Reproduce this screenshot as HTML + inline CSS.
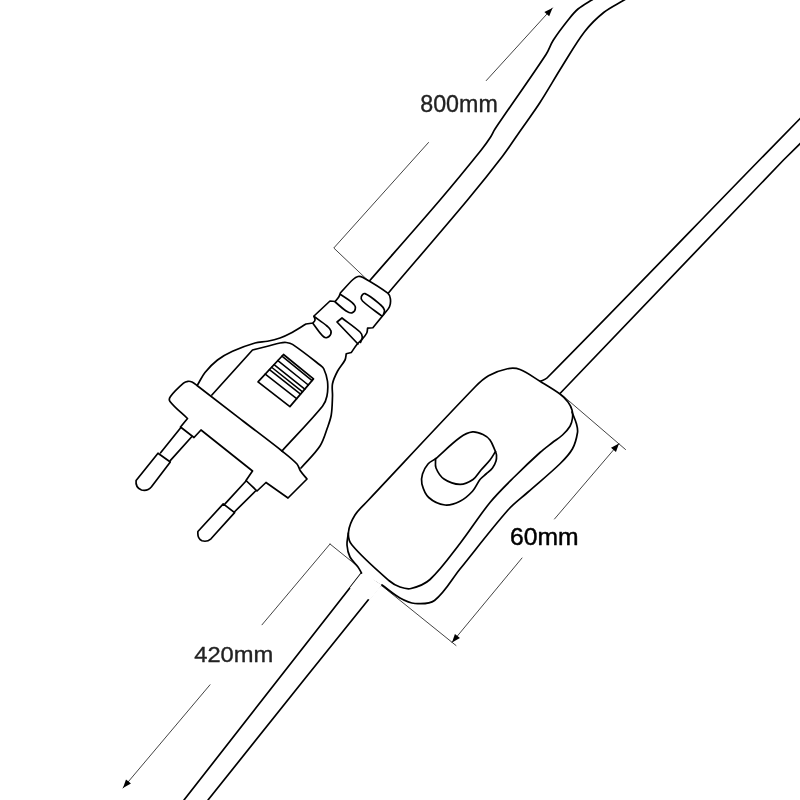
<!DOCTYPE html>
<html><head><meta charset="utf-8"><style>
html,body{margin:0;padding:0;background:#fff;}
svg{display:block;}
text{font-family:"Liberation Sans",sans-serif;}
</style></head><body>
<svg width="800" height="800" viewBox="0 0 800 800" stroke-linecap="round" stroke-linejoin="round">
<defs><filter id="gs" x="-10%" y="-30%" width="120%" height="160%"><feOffset dx="0" dy="0"/></filter></defs>
<rect width="800" height="800" fill="#fff"/>
<path d="M552.50 7.90 L486.25 80.60" fill="none" stroke="#444" stroke-width="1.00"/>
<path d="M428.50 142.50 L333.80 248.00 L368.00 280.50" fill="none" stroke="#444" stroke-width="1.00"/>
<path d="M330.00 544.00 L456.00 645.50" fill="none" stroke="#444" stroke-width="1.00"/>
<path d="M330.00 544.00 L262.00 624.80" fill="none" stroke="#444" stroke-width="1.00"/>
<path d="M210.00 684.80 L123.00 788.00" fill="none" stroke="#444" stroke-width="1.00"/>
<path d="M562.00 395.00 L625.50 449.50" fill="none" stroke="#444" stroke-width="1.00"/>
<path d="M619.00 443.50 L554.50 519.00" fill="none" stroke="#444" stroke-width="1.00"/>
<path d="M522.00 558.00 L452.00 642.50" fill="none" stroke="#444" stroke-width="1.00"/>
<path d="M552.50 7.90 L549.18 16.37 L544.37 11.99 Z" fill="#000"/>
<path d="M123.00 788.00 L125.99 779.41 L130.96 783.60 Z" fill="#000"/>
<path d="M619.00 443.50 L615.95 452.07 L611.01 447.85 Z" fill="#000"/>
<path d="M452.00 642.50 L454.92 633.88 L459.93 638.03 Z" fill="#000"/>
<path d="M604.00 -7.00 C599.92 -4.67 595.76 -2.46 591.75 0.00 C587.08 2.87 582.20 5.48 578.00 9.00 C574.38 12.03 571.43 15.80 568.50 19.50 C563.17 26.23 557.89 33.03 553.25 40.25 C550.37 44.73 548.92 50.04 546.00 54.50 C529.49 79.66 511.78 104.02 495.00 129.00 C493.30 131.53 492.27 134.45 490.60 137.00 C487.68 141.47 484.59 145.84 481.25 150.00 C467.72 166.85 454.03 183.57 440.00 200.00 C416.74 227.24 392.93 254.00 369.40 281.00" fill="none" stroke="#000" stroke-width="1.70"/>
<path d="M635.00 -7.00 C631.37 -4.67 627.77 -2.28 624.10 0.00 C617.43 4.14 610.13 7.35 604.00 12.25 C596.92 17.92 590.31 24.32 584.75 31.50 C576.23 42.50 569.42 54.73 562.00 66.50 C554.50 78.40 547.65 90.70 540.00 102.50 C533.65 112.29 526.68 121.68 520.00 131.25 C514.18 139.59 508.67 148.17 502.50 156.25 C491.17 171.09 479.47 185.66 467.50 200.00 C441.36 231.32 414.63 262.13 388.20 293.20" fill="none" stroke="#000" stroke-width="1.70"/>
<path d="M197.50 385.00 C200.00 380.83 201.96 376.29 205.00 372.50 C208.68 367.90 212.84 363.60 217.50 360.00 C222.08 356.46 227.23 353.64 232.50 351.25 C239.78 347.95 247.32 345.19 255.00 343.00 C259.05 341.84 263.37 342.08 267.50 341.25 C271.72 340.41 275.93 339.40 280.00 338.00 C283.46 336.81 286.78 335.23 290.00 333.50 C295.46 330.56 300.67 327.17 306.00 324.00 L313.00 323.00 C313.67 322.00 314.83 321.19 315.00 320.00 C315.19 318.64 314.33 317.33 314.00 316.00 L330.00 301.00 L335.25 301.50 C336.42 300.00 337.77 298.63 338.75 297.00 C339.54 295.69 339.92 294.17 340.50 292.75 C344.67 288.33 348.55 283.63 353.00 279.50 C354.42 278.18 356.09 276.88 358.00 276.50 C359.67 276.17 361.52 276.67 363.00 277.50 C371.52 282.28 380.05 287.19 387.75 293.20 C389.40 294.49 390.13 296.82 390.40 298.90 C390.74 301.51 390.51 304.32 389.50 306.75 C388.38 309.44 386.06 311.46 384.25 313.75 C380.52 318.46 376.68 323.08 372.90 327.75 L367.60 328.20 C367.32 329.80 367.45 331.54 366.75 333.00 C365.68 335.23 364.01 337.13 362.40 339.00 C360.92 340.72 358.95 342.00 357.50 343.75 C355.22 346.51 353.33 349.58 351.25 352.50 L346.25 353.75 C345.83 355.83 345.95 358.10 345.00 360.00 C342.98 364.03 339.60 367.26 337.50 371.25 C335.41 375.22 333.38 379.35 332.50 383.75 C331.68 387.84 332.67 392.09 332.50 396.25 C332.25 402.51 332.24 408.81 331.25 415.00 C330.56 419.30 328.98 423.41 327.50 427.50 C325.23 433.76 323.64 440.43 320.00 446.00 C314.69 454.11 307.33 460.67 301.00 468.00" fill="#fff" stroke="#000" stroke-width="1.70"/>
<path d="M340.50 294.50 C344.30 297.13 348.43 299.35 351.90 302.40 C353.47 303.78 355.40 305.51 355.40 307.60 C355.40 309.72 353.92 312.25 351.90 312.90 C349.83 313.57 347.57 311.89 345.75 310.70 C341.95 308.21 338.75 304.90 335.25 302.00" fill="none" stroke="#000" stroke-width="1.70"/>
<path d="M314.00 316.50 C318.33 319.67 322.92 322.52 327.00 326.00 C328.62 327.39 330.60 328.90 331.00 331.00 C331.37 332.92 330.48 335.23 329.00 336.50 C327.73 337.59 325.30 338.06 324.00 337.00 C319.49 333.34 316.67 328.00 313.00 323.50" fill="none" stroke="#000" stroke-width="1.70"/>
<path d="M382.00 316.20 C375.50 311.13 368.51 306.64 362.50 301.00 C361.44 300.00 360.83 298.18 361.30 296.80 C361.82 295.26 363.50 292.97 365.00 293.60 C370.97 296.12 375.80 300.82 380.75 305.00 C382.33 306.33 383.83 308.02 384.40 310.00 C384.83 311.47 383.80 313.00 383.50 314.50" fill="none" stroke="#000" stroke-width="1.70"/>
<path d="M358.00 344.00 L337.00 322.00 L342.00 318.00 C348.00 322.67 354.45 326.81 360.00 332.00 C361.34 333.25 362.21 335.17 362.30 337.00 C362.39 338.93 361.10 340.67 360.50 342.50" fill="none" stroke="#000" stroke-width="1.70"/>
<path d="M211.90 395.00 L252.50 350.00 C257.50 348.75 262.51 347.52 267.50 346.25 C271.67 345.19 275.78 343.84 280.00 343.00 C282.05 342.59 284.17 342.27 286.25 342.50 C288.41 342.74 290.69 343.19 292.50 344.40 C302.03 350.75 310.97 357.96 320.00 365.00 C321.39 366.09 323.01 367.14 323.75 368.75 C325.57 372.70 327.00 376.93 327.50 381.25 C328.07 386.22 327.88 391.34 326.90 396.25 C326.19 399.82 324.81 403.43 322.50 406.25 C309.74 421.81 295.50 436.08 282.00 451.00" fill="none" stroke="#000" stroke-width="1.70"/>
<path d="M283.50 354.50 L313.50 378.90 L289.90 406.60 L258.00 381.90 Z" fill="none" stroke="#000" stroke-width="1.70"/>
<path d="M281.97 356.14 L312.08 380.56" stroke="#000" stroke-width="1.53"/>
<path d="M277.89 360.53 L308.31 384.99" stroke="#000" stroke-width="1.53"/>
<path d="M274.06 364.64 L304.77 389.15" stroke="#000" stroke-width="1.53"/>
<path d="M271.64 367.24 L302.53 391.78" stroke="#000" stroke-width="1.53"/>
<path d="M269.48 369.57 L300.52 394.13" stroke="#000" stroke-width="1.53"/>
<path d="M265.27 374.09 L296.63 398.71" stroke="#000" stroke-width="1.53"/>
<path d="M188.00 381.30 C186.39 381.53 184.73 382.13 183.50 383.20 C178.82 387.27 174.18 391.51 170.50 396.50 C169.51 397.85 168.98 400.17 170.00 401.50 C174.97 407.94 181.67 412.83 187.50 418.50 L180.50 427.00 L194.00 437.50 L201.00 430.00 L252.50 471.00 L246.00 480.50 L257.00 491.00 L266.00 482.50 L288.00 498.00 L307.00 479.00 C304.83 476.33 302.41 473.86 300.50 471.00 C299.05 468.83 298.77 465.92 297.00 464.00 C292.51 459.14 287.18 455.12 282.00 451.00 C269.17 440.78 255.99 431.01 243.00 421.00 C227.66 409.18 212.39 397.27 197.00 385.50 C195.38 384.26 193.84 382.86 192.00 382.00 C190.77 381.43 189.34 381.11 188.00 381.30 Z" fill="none" stroke="#000" stroke-width="1.70"/>
<path d="M180.50 428.00 L160.60 452.75" fill="none" stroke="#000" stroke-width="1.70"/>
<path d="M191.50 437.00 L170.25 460.60" fill="none" stroke="#000" stroke-width="1.70"/>
<path d="M246.00 481.00 L225.00 503.90" fill="none" stroke="#000" stroke-width="1.70"/>
<path d="M255.50 491.00 L234.60 511.75" fill="none" stroke="#000" stroke-width="1.70"/>
<path d="M158 453.2 L170.3 462 L151.5 486.8 Q147.5 491.5 141.5 490 Q135.2 487.5 136.1 480.5 Z" fill="none" stroke="#000" stroke-width="1.70"/>
<path d="M223.25 503.9 L234.6 512.6 L211 538.8 Q207 542.3 202 540.8 Q197.2 538.5 197.9 531.5 Z" fill="none" stroke="#000" stroke-width="1.70"/>
<path d="M801.00 117.60 L759.50 160.00 C688.67 232.67 618.43 305.92 547.00 378.00 C545.16 379.85 542.33 380.33 540.00 381.50" fill="none" stroke="#000" stroke-width="1.70"/>
<path d="M801.00 142.70 L783.50 160.00 L560.00 393.50" fill="none" stroke="#000" stroke-width="1.70"/>
<path d="M361.50 573.00 L184.00 800.00" fill="none" stroke="#000" stroke-width="1.70"/>
<path d="M382.00 585.00 C381.00 585.50 379.70 585.63 379.00 586.50 C321.64 657.38 265.00 728.83 208.00 800.00" fill="none" stroke="#000" stroke-width="1.70"/>
<path d="M348.30 533.00 C347.87 537.00 346.72 540.99 347.00 545.00 C347.29 549.11 348.16 553.31 350.00 557.00 C351.91 560.82 355.51 563.53 358.00 567.00 C359.35 568.88 360.33 571.00 361.50 573.00 L382.00 585.00 C388.00 589.33 393.54 594.38 400.00 598.00 C404.65 600.60 409.69 603.12 415.00 603.50 C421.56 603.98 429.28 604.50 434.50 600.50 C445.22 592.28 451.48 579.49 460.00 569.00 C475.98 549.32 491.23 529.01 508.00 510.00 C513.78 503.45 520.97 498.30 527.50 492.50 C538.31 482.89 549.63 473.83 560.00 463.75 C564.67 459.21 569.32 454.43 572.50 448.75 C575.27 443.81 576.60 438.09 577.50 432.50 C577.96 429.68 577.24 426.76 576.50 424.00 C575.39 419.87 573.50 416.00 572.00 412.00 C570.67 408.67 569.99 404.99 568.00 402.00 C565.91 398.86 563.03 396.25 560.00 394.00 C553.65 389.29 546.74 385.38 540.00 381.25 C533.41 377.21 527.22 372.28 520.00 369.50 C516.10 368.00 511.59 367.94 507.50 368.75 C500.88 370.06 494.39 372.45 488.50 375.75 C483.39 378.62 479.07 382.79 475.00 387.00 C439.04 424.23 404.00 462.33 368.50 500.00 C364.00 505.00 358.51 509.26 355.00 515.00 C351.66 520.46 350.53 527.00 348.30 533.00 Z" fill="#fff" stroke="none"/>
<path d="M361.5 573 L382 585 L369.9 600 L349.8 588 Z" fill="#fff"/>
<path d="M572.00 412.00 C573.50 416.00 575.39 419.87 576.50 424.00 C577.24 426.76 577.96 429.68 577.50 432.50 C576.60 438.09 575.27 443.81 572.50 448.75 C569.32 454.43 564.67 459.21 560.00 463.75 C549.63 473.83 538.31 482.89 527.50 492.50 C520.97 498.30 513.78 503.45 508.00 510.00 C491.23 529.01 475.98 549.32 460.00 569.00 C451.48 579.49 445.22 592.28 434.50 600.50 C429.28 604.50 421.56 603.98 415.00 603.50 C409.69 603.12 404.65 600.60 400.00 598.00 C393.54 594.38 388.00 589.33 382.00 585.00" fill="none" stroke="#000" stroke-width="1.70"/>
<path d="M348.30 533.00 C347.87 537.00 346.72 540.99 347.00 545.00 C347.29 549.11 348.16 553.31 350.00 557.00 C351.91 560.82 355.51 563.53 358.00 567.00 C359.35 568.88 360.33 571.00 361.50 573.00" fill="none" stroke="#000" stroke-width="1.70"/>
<path d="M475.00 387.00 C439.04 424.23 404.00 462.33 368.50 500.00 C364.00 505.00 358.57 509.30 355.00 515.00 C351.78 520.14 349.10 525.96 348.50 532.00 C348.05 536.47 349.12 541.56 352.00 545.00 C363.12 558.29 376.46 569.59 389.50 581.00 C392.53 583.65 396.19 585.67 400.00 587.00 C403.49 588.22 407.41 589.40 411.00 588.50 C417.80 586.80 424.84 584.24 430.00 579.50 C441.50 568.93 450.40 555.82 460.00 543.50 C470.41 530.14 479.28 515.61 490.00 502.50 C497.65 493.15 506.46 484.79 515.00 476.25 C523.13 468.12 531.46 460.19 540.00 452.50 C543.97 448.93 548.29 445.78 552.50 442.50 C555.79 439.94 559.45 437.84 562.50 435.00 C565.32 432.39 568.05 429.56 570.00 426.25 C571.46 423.77 572.15 420.85 572.50 418.00 C572.83 415.35 572.72 412.57 572.00 410.00 C571.19 407.13 569.79 404.39 568.00 402.00 C565.74 398.98 563.03 396.25 560.00 394.00 C553.65 389.29 546.74 385.38 540.00 381.25 C533.41 377.21 527.22 372.28 520.00 369.50 C516.10 368.00 511.59 367.94 507.50 368.75 C500.88 370.06 494.39 372.45 488.50 375.75 C483.39 378.62 479.07 382.79 475.00 387.00 Z" fill="none" stroke="#000" stroke-width="1.70"/>
<path d="M435.60 458.75 C443.73 451.67 451.28 443.85 460.00 437.50 C463.69 434.81 467.97 432.49 472.50 431.90 C476.08 431.43 479.73 432.99 483.00 434.50 C485.69 435.75 488.24 437.61 490.00 440.00 C492.52 443.42 493.67 447.67 495.50 451.50 C493.67 454.33 492.08 457.34 490.00 460.00 C487.23 463.53 483.95 466.62 481.00 470.00 C478.28 473.12 476.41 477.16 473.00 479.50 C469.18 482.12 464.63 484.48 460.00 484.40 C454.37 484.30 448.65 482.18 444.00 479.00 C440.26 476.44 437.74 472.19 436.00 468.00 C434.82 465.15 435.73 461.83 435.60 458.75" fill="none" stroke="#000" stroke-width="1.70"/>
<path d="M435.60 458.75 C433.07 460.50 430.01 461.66 428.00 464.00 C425.52 466.89 423.61 470.36 422.50 474.00 C421.53 477.19 421.04 480.77 421.90 484.00 C423.20 488.88 425.02 494.11 428.75 497.50 C433.16 501.51 439.08 504.29 445.00 505.00 C450.12 505.61 455.39 503.55 460.00 501.25 C464.77 498.86 468.89 495.18 472.50 491.25 C475.65 487.83 477.14 483.16 480.00 479.50 C481.67 477.36 484.00 475.84 486.00 474.00 C488.17 472.00 490.70 470.34 492.50 468.00 C494.09 465.93 495.23 463.49 496.00 461.00 C496.59 459.08 496.61 457.00 496.50 455.00 C496.44 453.79 495.83 452.67 495.50 451.50" fill="none" stroke="#000" stroke-width="1.70"/>
<text filter="url(#gs)" x="420.25" y="112.25" font-size="23" fill="#222" stroke="#222" stroke-width="0.35" textLength="77.5" lengthAdjust="spacingAndGlyphs">800mm</text>
<text filter="url(#gs)" x="194.25" y="662.25" font-size="22.5" fill="#222" stroke="#222" stroke-width="0.35" textLength="79" lengthAdjust="spacingAndGlyphs">420mm</text>
<text filter="url(#gs)" x="510.1" y="544.8" font-size="23.5" fill="#000" stroke="#000" stroke-width="0.45" textLength="68.5" lengthAdjust="spacingAndGlyphs">60mm</text>
</svg>
</body></html>
